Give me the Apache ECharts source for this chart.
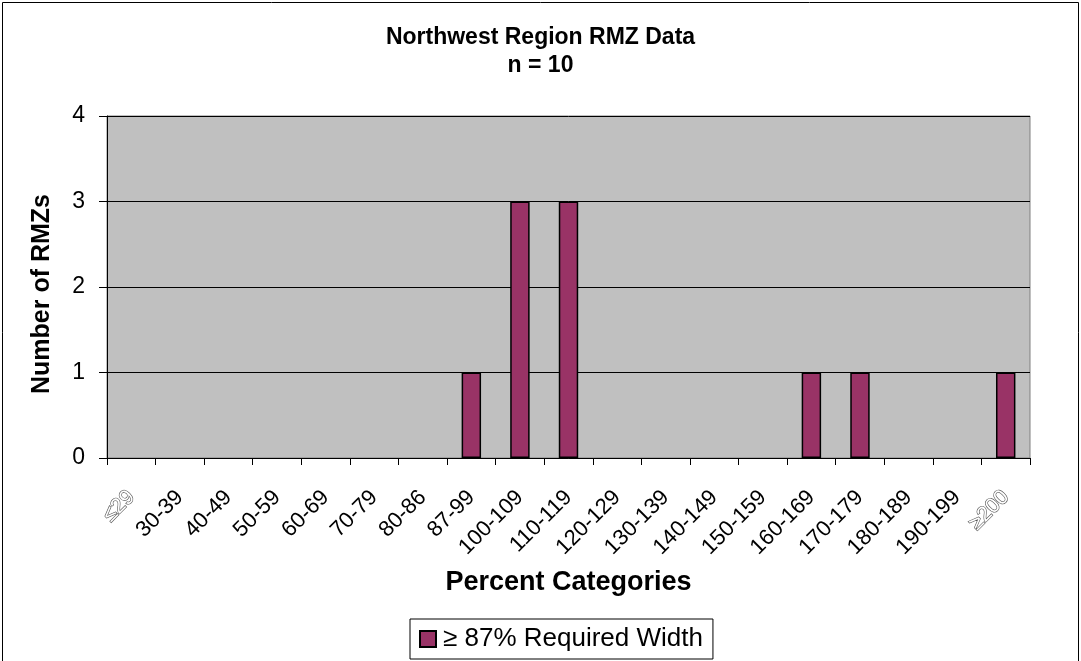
<!DOCTYPE html>
<html lang="en">
<head>
  <meta charset="UTF-8">
  <title>Northwest Region RMZ Data</title>
  <script src="https://cdn.jsdelivr.net/npm/echarts@6/dist/echarts.min.js"></script>
</head>
<body style="margin:0">
  <div id="main" style="width: 1081px; height: 661px;"></div>
  <script>
    // categories and counts
    var categories = ['≤29', '30-39', '40-49', '50-59', '60-69', '70-79', '80-86', '87-99',
      '100-109', '110-119', '120-129', '130-139', '140-149', '150-159', '160-169',
      '170-179', '180-189', '190-199', '≥200'];
    var counts = [0, 0, 0, 0, 0, 0, 0, 1, 3, 3, 0, 0, 0, 0, 1, 1, 0, 0, 1];
    var yTicks = [0, 1, 2, 3, 4];

    var myChart = echarts.init(document.getElementById('main'));

    var font = '"Liberation Sans", Arial, sans-serif';

    var option = {
      animation: false,
      backgroundColor: '#fff',
      textStyle: { fontFamily: font, color: '#000' },
      title: {
        text: 'Northwest Region RMZ Data\nn = 10',
        left: 'center',
        top: 24,
        padding: 0,
        textStyle: { fontSize: 23, fontWeight: 'bold', lineHeight: 28, color: '#000', fontFamily: font }
      },
      graphic: [{
        type: 'rect',
        shape: { x: 2.5, y: 2.5, width: 1076, height: 700 },
        style: { fill: 'none', stroke: '#000', lineWidth: 1 },
        silent: true
      }],
      legend: {
        bottom: 2,
        left: 410,
        icon: 'rect',
        itemWidth: 16,
        itemHeight: 16,
        itemGap: 10,
        borderColor: '#000',
        borderWidth: 1,
        padding: [7, 10, 7, 9],
        textStyle: { fontSize: 26, color: '#000', fontFamily: font, padding: [0, 0, 0, 2] },
        data: ['≥ 87% Required Width']
      },
      grid: {
        left: 107,
        right: 51,
        top: 116,
        bottom: 203,
        show: true,
        backgroundColor: '#C0C0C0',
        borderColor: '#808080',
        borderWidth: 1
      },
      xAxis: {
        type: 'category',
        data: categories,
        name: 'Percent Categories',
        nameLocation: 'middle',
        nameGap: 111,
        nameTextStyle: { fontSize: 27, fontWeight: 'bold', color: '#000', fontFamily: font },
        axisLine: { lineStyle: { color: '#000', width: 1 } },
        axisTick: { show: true, length: 7, alignWithLabel: false, lineStyle: { color: '#000' } },
        axisLabel: {
          rotate: 45, fontSize: 22, color: '#000', margin: 36, interval: 0, fontFamily: font,
          formatter: function (v) {
            return (v.charAt(0) === '≤' || v.charAt(0) === '≥') ? '{hollow|' + v + '}' : v;
          },
          rich: {
            hollow: { fontSize: 21, color: '#fff', textBorderColor: '#555', textBorderWidth: 1.2, fontFamily: font }
          }
        }
      },
      yAxis: {
        type: 'value',
        min: yTicks[0],
        max: yTicks[yTicks.length - 1],
        interval: 1,
        name: 'Number of RMZs',
        nameLocation: 'middle',
        nameGap: 52,
        nameTextStyle: { fontSize: 25, fontWeight: 'bold', color: '#000', fontFamily: font, padding: [0, 14, 0, 0] },
        axisLine: { show: true, lineStyle: { color: '#000', width: 1 } },
        axisTick: { show: true, length: 8, lineStyle: { color: '#000' } },
        axisLabel: { fontSize: 23, color: '#000', margin: 22, fontFamily: font },
        splitLine: { show: true, lineStyle: { color: '#000', width: 1 } }
      },
      series: [{
        name: '≥ 87% Required Width',
        type: 'bar',
        data: counts.map(function (v) { return v === 0 ? '-' : v; }),
        barWidth: '40%',
        itemStyle: { color: '#993366', borderColor: '#000', borderWidth: 1.5 }
      }]
    };

    myChart.setOption(option);
  </script>
</body>
</html>
